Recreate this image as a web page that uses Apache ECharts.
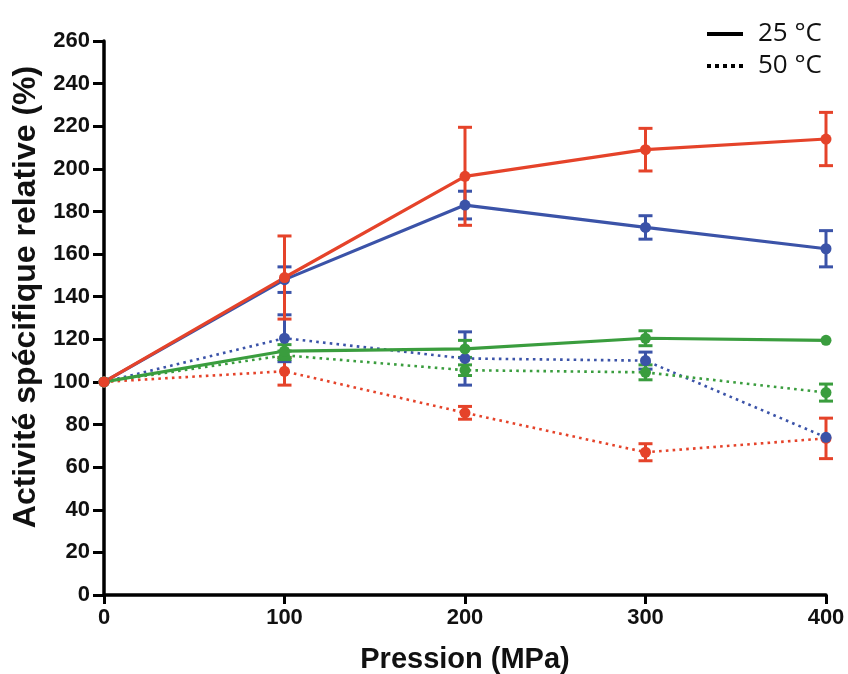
<!DOCTYPE html>
<html>
<head>
<meta charset="utf-8">
<script src="https://cdn.jsdelivr.net/npm/echarts@6/dist/echarts.min.js"></script>
<style>
html,body{margin:0;padding:0;background:#fff;}
#chart{width:848px;height:674px;}
</style>
</head>
<body>
<div id="chart"></div>
<script>
// ---- data ----
var pressures = [0, 100, 200, 300, 400];
var yTicks = [0, 20, 40, 60, 80, 100, 120, 140, 160, 180, 200, 220, 240, 260];
var xTicks = [0, 100, 200, 300, 400];

var red25 = [100, 149, 196.5, 209, 214];
var red25Err = [0, 19.5, 23, 10, 12.5];
var blue25 = [100, 148, 183, 172.5, 162.5];
var blue25Err = [0, 6, 6.5, 5.5, 8.5];
var green25 = [100, 114.5, 115.5, 120.5, 119.5];
var green25Err = [0, 3, 4, 3.5, 0];

var red50 = [100, 105, 85.5, 67, 73.5];
var red50Err = [0, 6.5, 3, 4, 9.5];
var blue50 = [100, 120.5, 111, 110, 74];
var blue50Err = [0, 11, 12.5, 4, 0];
var green50 = [100, 112.5, 105.5, 104.5, 95];
var green50Err = [0, 2, 2.5, 3.5, 4];

var legendNames = ['25 \u00B0C', '50 \u00B0C'];
var xTitle = 'Pression (MPa)';
var yTitle = 'Activit\u00E9 sp\u00E9cifique relative (%)';

var RED = '#E5432A', BLUE = '#3B53A8', GREEN = '#3A9D3E';

function pairs(vals) {
  return pressures.map(function (p, i) { return [p, vals[i]]; });
}
function errData(vals, errs) {
  var out = [];
  pressures.forEach(function (p, i) {
    if (errs[i] > 0) out.push([p, vals[i] - errs[i], vals[i] + errs[i]]);
  });
  return out;
}
function errSeries(vals, errs, color) {
  return {
    type: 'custom',
    silent: true,
    z: 3,
    data: errData(vals, errs),
    encode: { x: 0, y: [1, 2] },
    renderItem: function (params, api) {
      var x = api.value(0);
      var lo = api.coord([x, api.value(1)]);
      var hi = api.coord([x, api.value(2)]);
      var hw = 7;
      var st = { stroke: color, lineWidth: 3, fill: null };
      return {
        type: 'group',
        children: [
          { type: 'line', shape: { x1: lo[0], y1: lo[1], x2: hi[0], y2: hi[1] }, style: st },
          { type: 'line', shape: { x1: lo[0] - hw, y1: lo[1], x2: lo[0] + hw, y2: lo[1] }, style: st },
          { type: 'line', shape: { x1: hi[0] - hw, y1: hi[1], x2: hi[0] + hw, y2: hi[1] }, style: st }
        ]
      };
    }
  };
}
function lineSeries(vals, color, dotted) {
  return {
    type: 'line',
    data: pairs(vals),
    symbol: 'circle',
    symbolSize: 11,
    z: 4,
    itemStyle: { color: color },
    lineStyle: dotted ? { color: color, width: 2.6, type: [2.6, 4.2] } : { color: color, width: 3.2 },
    emphasis: { disabled: true },
    animation: false
  };
}

var solidIcon = 'path://M0,0h36v4h-36z';
var dottedIcon = 'path://M0,0h4v4h-4z M8,0h4v4h-4z M16,0h4v4h-4z M24,0h4v4h-4z M32,0h4v4h-4z';

var chart = echarts.init(document.getElementById('chart'), null, { renderer: 'canvas' });
var option = {
  animation: false,
  backgroundColor: '#ffffff',
  grid: { left: 104, right: 22, top: 41, bottom: 79, containLabel: false, outerBoundsMode: 'none' },
  legend: {
    data: [
      { name: legendNames[0], icon: solidIcon },
      { name: legendNames[1], icon: dottedIcon }
    ],
    orient: 'vertical',
    right: 21,
    top: 16,
    itemWidth: 36,
    itemHeight: 4,
    itemGap: 6,
    itemStyle: { color: '#000' },
    textStyle: { fontFamily: 'Open Sans', fontSize: 26, color: '#111', padding: [0, 0, 0, 10] },
    selectedMode: false
  },
  xAxis: {
    type: 'value',
    min: 0, max: 400, interval: 100,
    name: xTitle,
    nameLocation: 'middle',
    nameGap: 50,
    nameTextStyle: { fontFamily: 'Liberation Sans', fontWeight: 'bold', fontSize: 29, color: '#111' },
    axisLine: { show: true, onZero: false, lineStyle: { color: '#000', width: 3.5 } },
    axisTick: { show: true, inside: false, length: 9, lineStyle: { color: '#000', width: 3 } },
    axisLabel: { fontFamily: 'Liberation Sans', fontWeight: 'bold', fontSize: 22, color: '#111', margin: 12,
      formatter: function (v) { return xTicks.indexOf(v) >= 0 ? String(v) : ''; } },
    splitLine: { show: false }
  },
  yAxis: {
    type: 'value',
    min: 0, max: 260, interval: 20,
    name: yTitle,
    nameLocation: 'middle',
    nameGap: 61,
    nameTextStyle: { fontFamily: 'Liberation Sans', fontWeight: 'bold', fontSize: 32, color: '#111',
      padding: [0, 0, 0, 42] },
    axisLine: { show: true, onZero: false, lineStyle: { color: '#000', width: 3.5 } },
    axisTick: { show: true, inside: false, length: 11, lineStyle: { color: '#000', width: 3 } },
    axisLabel: { fontFamily: 'Liberation Sans', fontWeight: 'bold', fontSize: 22, color: '#111', margin: 14,
      formatter: function (v) { return yTicks.indexOf(v) >= 0 ? String(v) : ''; } },
    splitLine: { show: false }
  },
  series: [
    errSeries(red50, red50Err, RED),
    errSeries(blue50, blue50Err, BLUE),
    errSeries(green50, green50Err, GREEN),
    errSeries(blue25, blue25Err, BLUE),
    errSeries(green25, green25Err, GREEN),
    errSeries(red25, red25Err, RED),
    lineSeries(red50, RED, true),
    lineSeries(blue50, BLUE, true),
    lineSeries(green50, GREEN, true),
    lineSeries(blue25, BLUE, false),
    lineSeries(green25, GREEN, false),
    lineSeries(red25, RED, false),
    { name: legendNames[0], type: 'line', data: [], symbol: 'none', itemStyle: { color: '#000' },
      lineStyle: { color: '#000', width: 4 } },
    { name: legendNames[1], type: 'line', data: [], symbol: 'none', itemStyle: { color: '#000' },
      lineStyle: { color: '#000', width: 4, type: [3.5, 3.5] } }
  ]
};
chart.setOption(option);
</script>
</body>
</html>
